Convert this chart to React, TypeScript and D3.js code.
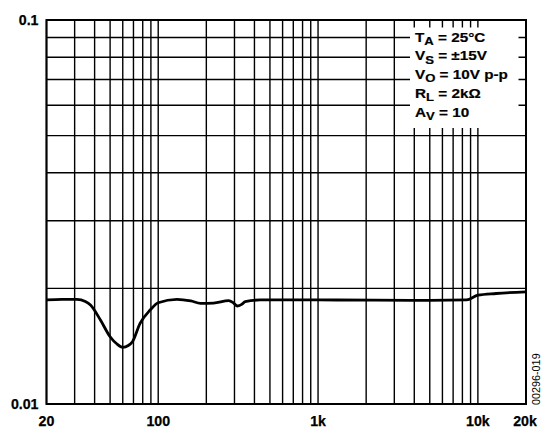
import React from 'react';
import * as d3 from 'd3';

const W = 542;
const H = 430;

// THD + N (%) vs frequency (Hz)
const freqHz = [20, 25, 31, 35, 37.7, 43.5, 50, 55, 60, 65, 69, 77, 89, 100, 131, 160, 184, 222, 276, 295, 313, 335, 350, 435, 1000, 5000, 8500, 10000, 13000, 20000];
const thdPct = [0.01866, 0.01872, 0.01873, 0.0185, 0.01811, 0.01655, 0.01497, 0.01435, 0.01405, 0.0142, 0.01453, 0.01622, 0.01757, 0.01835, 0.01873, 0.01855, 0.01829, 0.01832, 0.01858, 0.01835, 0.018, 0.0182, 0.01848, 0.01866, 0.01866, 0.01862, 0.01866, 0.0192, 0.0194, 0.0196];

const xTickValues = [20, 100, 1000, 10000, 20000];
const xTickLabels = ['20', '100', '1k', '10k', '20k'];
const yTickValues = [0.01, 0.1];
const yTickLabels = ['0.01', '0.1'];

const legendMain = ['T', 'V', 'V', 'R', 'A'];
const legendSub = ['A', 'S', 'O', 'L', 'V'];
const legendRest = [' = 25°C', ' = ±15V', ' = 10V p-p', ' = 2kΩ', ' = 10'];

const figureId = '00296-019';

const FONT = "'Liberation Sans', Arial, Helvetica, sans-serif";

export default function App() {
  const left = 46.5, right = 526, top = 20, bottom = 404;
  const x = d3.scaleLog().domain([20, 20000]).range([left, right]);
  const y = d3.scaleLog().domain([0.01, 0.1]).range([bottom, top]);

  const gridX = x.ticks();
  const gridY = y.ticks();

  const line = d3
    .line<number>()
    .x((_, i) => x(freqHz[i]))
    .y((d) => y(d))
    .curve(d3.curveMonotoneX);

  const legX = 415;
  const legY0 = 41.7;
  const legDy = 18.7;

  return (
    <svg
      width={W}
      height={H}
      style={{ position: 'absolute', left: 0, top: 0, display: 'block', background: '#fff' }}
    >
      <rect x={0} y={0} width={W} height={H} fill="#fff" />
      {/* grid */}
      <g stroke="#000" strokeWidth={1.4}>
        {gridX.map((f, i) => (
          <line key={'gx' + i} x1={x(f)} x2={x(f)} y1={top} y2={bottom} />
        ))}
        {gridY.map((v, i) => (
          <line key={'gy' + i} x1={left} x2={right} y1={y(v)} y2={y(v)} />
        ))}
      </g>
      {/* legend background */}
      <rect x={410} y={27.5} width={108.5} height={100.5} fill="#fff" />
      {/* frame */}
      <rect x={left} y={top} width={right - left} height={bottom - top} fill="none" stroke="#000" strokeWidth={2} />
      {/* curve */}
      <path d={line(thdPct) || ''} fill="none" stroke="#000" strokeWidth={2.8} strokeLinejoin="round" />
      {/* y labels */}
      {yTickValues.map((v, i) => (
        <g key={'yl' + i} transform={`translate(${left - 8},${y(v) + 5})`}>
          <text textAnchor="end" fontFamily={FONT} fontWeight="bold" fontSize={14.2} fill="#000" stroke="#000" strokeWidth={0.25}>
            {yTickLabels[i]}
          </text>
        </g>
      ))}
      {/* x labels */}
      {xTickValues.map((v, i) => (
        <g key={'xl' + i} transform={`translate(${i === xTickValues.length - 1 ? x(v) - 1 : x(v)},${bottom + 22})`}>
          <text textAnchor="middle" fontFamily={FONT} fontWeight="bold" fontSize={14.2} fill="#000" stroke="#000" strokeWidth={0.25}>
            {xTickLabels[i]}
          </text>
        </g>
      ))}
      {/* legend */}
      {legendMain.map((m, i) => (
        <g key={'lg' + i} transform={`translate(${legX},${legY0 + i * legDy}) scale(1.14,1)`}>
          <text fontFamily={FONT} fontWeight="bold" fontSize={13.4} fill="#000" stroke="#000" strokeWidth={0.2}>
            <tspan>{m}</tspan>
            <tspan dy={3.2} fontSize={11.5}>{legendSub[i]}</tspan>
            <tspan dy={-3.2}>{legendRest[i]}</tspan>
          </text>
        </g>
      ))}
      {/* figure id */}
      <text
        transform={`translate(540,405) rotate(-90)`}
        fontFamily={FONT}
        fontSize={10.8}
        fill="#000"
      >
        {figureId}
      </text>
    </svg>
  );
}
